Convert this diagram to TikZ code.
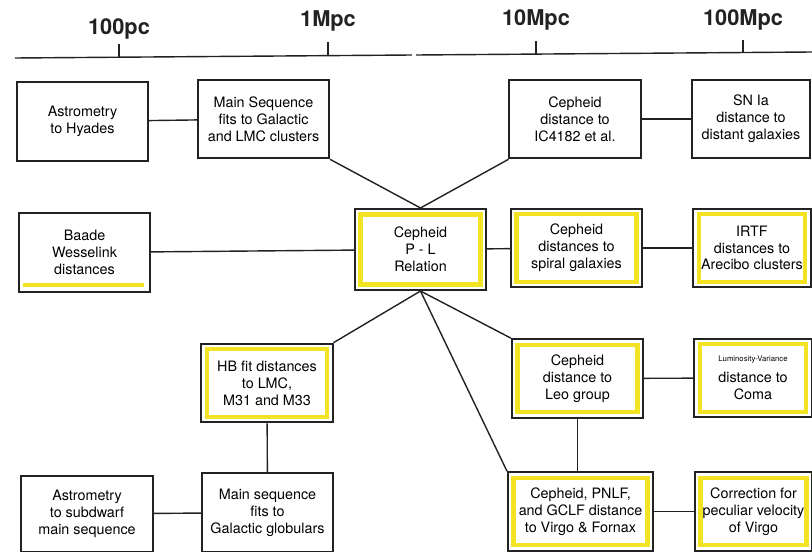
\documentclass[tikz,border=0pt]{standalone}
\usepackage{fontspec}
\setmainfont{TeX Gyre Heros}
\usepackage{tikz}
\usetikzlibrary{calc}
\usepackage{xcolor}
\definecolor{hlyellow}{HTML}{F2E422}
\definecolor{inkline}{HTML}{222222}
\newcommand{\boxfont}{\fontsize{10.2}{12}\selectfont}
\newcommand{\tinyfont}{\fontsize{5.5}{6}\selectfont}
\tikzset{
  box/.style={
    rectangle,
    draw=inkline,
    line width=1.3pt,
    fill=white,
    align=center,
    minimum width=3.28cm,
    minimum height=1.97cm,
    inner sep=2pt,
    font=\boxfont
  },
  rbox/.style={
    box,
    minimum width=2.93cm
  },
  hl/.style={
    path picture={
      \draw[hlyellow,line width=3pt]
        ([shift={(4pt,4pt)}]path picture bounding box.south west) rectangle
        ([shift={(-4pt,-4pt)}]path picture bounding box.north east);
    }
  },
  underhl/.style={
    path picture={
      \draw[hlyellow,line width=3pt]
        ([shift={(3pt,5pt)}]path picture bounding box.south west) --
        ([shift={(-4pt,5pt)}]path picture bounding box.south east);
    }
  },
  link/.style={
    line width=1pt,
    draw=inkline
  },
  axislabel/.style={
    font=\fontsize{15.5}{16}\selectfont\bfseries,
    text=inkline
  }
}

\begin{document}
\begin{tikzpicture}[x=0.025cm,y=-0.025cm]
\useasboundingbox (0,0) rectangle (812,552);

% distance scale
\draw[link] (15,58) -- (412,55);
\draw[link] (416,55) -- (812,52);
\foreach \i/\x/\ty/\ly/\lab in {1/119/57/29/100pc,2/328/55/21/1Mpc,3/536/54/20/10Mpc,4/743/53/20/100Mpc} {
  \draw[link] (\x,\ty) -- (\x,\ty-13);
  \node[axislabel] (ax\i) at (\x,\ly) {\lab};
}

% row 1
\node[box] (hyades) at (82.5,121.5) {Astrometry\\to Hyades};
\node[box] (msfit) at (263.5,119) {Main Sequence\\fits to Galactic\\and LMC clusters};
\node[box] (ic) at (575,119) {Cepheid\\distance to\\IC4182 et al.};
\node[rbox] (snia) at (751,119) {SN Ia\\distance to\\distant galaxies};

% row 2
\node[box,underhl] (baade) at (84.5,252.5) {Baade\\Wesselink\\distances};
\node[box,hl,minimum height=2.03cm] (pl) at (420.5,249.5) {Cepheid\\P - L\\Relation};
\node[box,hl] (spiral) at (576.5,248) {Cepheid\\distances to\\spiral galaxies};
\node[rbox,hl] (irtf) at (752,248) {IRTF\\distances to\\Arecibo clusters};

% row 3
\node[box,hl] (hb) at (267,383) {HB fit distances\\to LMC,\\M31 and M33};
\node[box,hl] (leo) at (577.5,378.5) {Cepheid\\distance to\\Leo group};
\node[rbox,hl] (coma) at (753,378) {{\tinyfont Luminosity-Variance}\\[3pt]distance to\\Coma};

% row 4
\node[box,minimum height=1.9cm] (subdw) at (87,514) {Astrometry\\to subdwarf\\main sequence};
\node[box] (msglob) at (267.5,512.5) {Main sequence\\fits to\\Galactic globulars};
\node[box,hl,minimum width=3.63cm] (virgo) at (580.5,511.5) {Cepheid, PNLF,\\and GCLF distance\\to Virgo \& Fornax};
\node[rbox,hl] (corr) at (753.5,511.5) {Correction for\\peculiar velocity\\of Virgo};

% connectors
\draw[link] (hyades) -- (msfit);
\draw[link] (ic) -- (snia);
\draw[link] (msfit.south east) -- (pl.north);
\draw[link] (ic.south west) -- (pl.north);
\draw[link] (baade) -- (pl);
\draw[link] (pl) -- (spiral);
\draw[link] (spiral) -- (irtf);
\draw[link] (pl.south) -- (hb.north east);
\draw[link] (pl.south) -- (leo.north west);
\draw[link] (pl.south) -- (virgo.north west);
\draw[link] (leo) -- (coma);
\draw[link] (leo) -- (leo |- virgo.north);
\draw[link] (hb) -- (msglob);
\draw[link] (subdw) -- (msglob);
\draw[link] (virgo) -- (corr);
\end{tikzpicture}
\end{document}
